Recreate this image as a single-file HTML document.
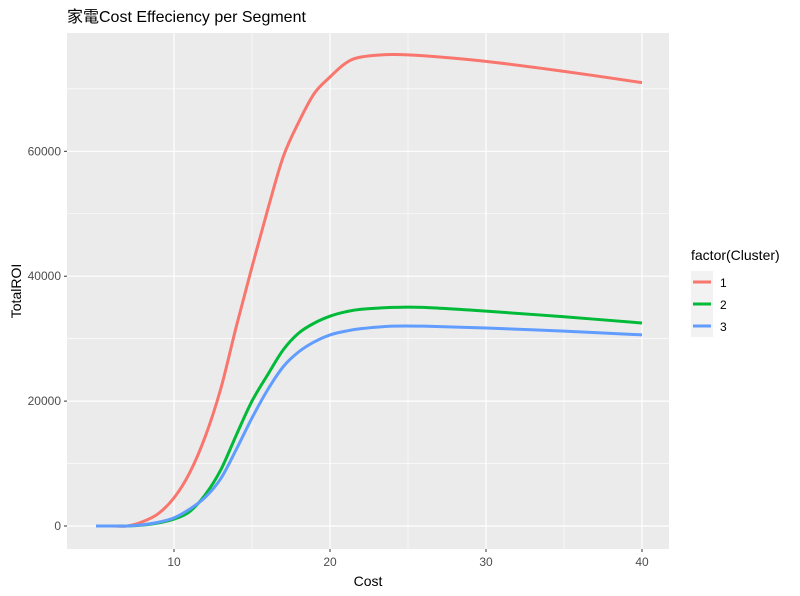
<!DOCTYPE html>
<html><head><meta charset="utf-8"><style>
body{margin:0;background:#fff;}
svg{display:block;font-family:"Liberation Sans","Noto Sans CJK SC",sans-serif;}
</style></head><body>
<svg id="chart" width="800" height="596">
<text x="67" y="22" font-size="16" fill="#000">家電Cost Effeciency per Segment</text>
<rect x="67" y="33" width="602" height="516" fill="#ebebeb"/>
<g id="grid"></g>
<g id="series"></g>
<g id="axes"></g>
<text x="368" y="586" font-size="14" text-anchor="middle">Cost</text>
<text transform="translate(21,291) rotate(-90)" font-size="14" text-anchor="middle">TotalROI</text>
<g id="legend">
<text x="691" y="260" font-size="14">factor(Cluster)</text>
</g>
</svg>
<script>
const xs=[5,6,7,8,9,10,11,12,13,14,15,16,17,18,19,20,21,22,24,26,30,35,40];
const s1=[0,0,0,700,2000,4500,8500,14300,22000,32000,41500,50600,59100,64700,69300,71900,74100,75100,75500,75300,74400,72800,71000];
const s2=[0,0,0,150,500,1100,2300,5000,9000,14600,20000,24200,28200,30900,32500,33600,34300,34700,35000,35000,34400,33500,32500];
const s3=[0,0,0,200,600,1300,2700,4600,7600,12300,17300,21800,25500,27900,29500,30600,31200,31600,32000,32000,31700,31200,30600];
const seriesNames=['1','2','3'];
const colors=['#f8766d','#00ba38','#619cff'];
const xTicks=[10,20,30,40];
const yTicks=[0,20000,40000,60000];
const NS='http://www.w3.org/2000/svg';
const X=v=>174+(v-10)*15.6;
const Y=v=>526-v*0.006245;
function mk(t,a,p){const e=document.createElementNS(NS,t);for(const k in a)e.setAttribute(k,a[k]);p.appendChild(e);return e;}
const grid=document.getElementById('grid'),axes=document.getElementById('axes'),ser=document.getElementById('series'),leg=document.getElementById('legend');
[15,25,35].forEach(v=>{const l=mk('line',{x1:X(v),x2:X(v),y1:33,y2:549,stroke:'#fff','stroke-width':0.6},grid);

});
[10000,30000,50000,70000].forEach(v=>{const l=mk('line',{x1:67,x2:669,y1:Y(v),y2:Y(v),stroke:'#fff','stroke-width':0.6},grid);

});
xTicks.forEach(v=>{const l=mk('line',{x1:X(v),x2:X(v),y1:33,y2:549,stroke:'#fff','stroke-width':1.2},grid);


const t=mk('line',{x1:X(v),x2:X(v),y1:549,y2:552,stroke:'#333'},axes);


const tx=mk('text',{x:X(v),y:566,'font-size':12,fill:'#4d4d4d','text-anchor':'middle'},axes);tx.textContent=v;

});
yTicks.forEach(v=>{const l=mk('line',{x1:67,x2:669,y1:Y(v),y2:Y(v),stroke:'#fff','stroke-width':1.2},grid);


const t=mk('line',{x1:64,x2:67,y1:Y(v),y2:Y(v),stroke:'#333'},axes);


const tx=mk('text',{x:61,y:Y(v)+4,'font-size':12,fill:'#4d4d4d','text-anchor':'end'},axes);tx.textContent=v;

});
function smooth(pts){let d='M'+pts[0][0]+','+pts[0][1];for(let i=0;i<pts.length-1;i++){const p0=pts[i-1]||pts[i],p1=pts[i],p2=pts[i+1],p3=pts[i+2]||p2;
d+=' C'+(p1[0]+(p2[0]-p0[0])/6)+','+(p1[1]+(p2[1]-p0[1])/6)+' '+(p2[0]-(p3[0]-p1[0])/6)+','+(p2[1]-(p3[1]-p1[1])/6)+' '+p2[0]+','+p2[1];}return d;}
[s1,s2,s3].forEach((s,i)=>{const p=mk('path',{d:smooth(xs.map((x,j)=>[X(x),Y(s[j])])),fill:'none',stroke:colors[i],'stroke-width':3},ser);


const k=mk('rect',{x:691,y:271+i*22,width:22,height:22,fill:'#f2f2f2'},leg);


const l=mk('line',{x1:693,x2:711,y1:282+i*22,y2:282+i*22,stroke:colors[i],'stroke-width':3},leg);


const t=mk('text',{x:720,y:287+i*22,'font-size':12},leg);t.textContent=seriesNames[i];

});
</script>
</body></html>
